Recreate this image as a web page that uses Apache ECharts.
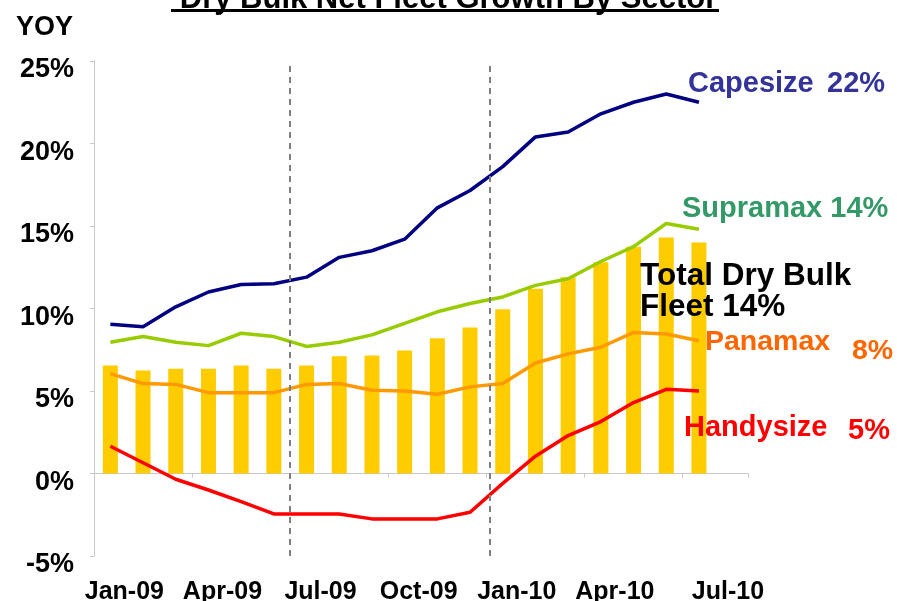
<!DOCTYPE html>
<html>
<head>
<meta charset="utf-8">
<script src="https://cdn.jsdelivr.net/npm/echarts@6/dist/echarts.min.js"></script>
<style>
html,body{margin:0;padding:0;background:#fff;}
#chart{width:897px;height:601px;}
</style>
</head>
<body>
<div id="chart"></div>
<script>
const months = ['Jan-09','Feb-09','Mar-09','Apr-09','May-09','Jun-09','Jul-09','Aug-09','Sep-09','Oct-09','Nov-09','Dec-09','Jan-10','Feb-10','Mar-10','Apr-10','May-10','Jun-10','Jul-10','Aug-10'];
const totalFleet = [6.55, 6.25, 6.35, 6.35, 6.55, 6.35, 6.55, 7.1, 7.15, 7.45, 8.2, 8.85, 9.95, 11.2, 11.9, 12.8, 13.75, 14.3, 14.0];
const capesize = [9.05, 8.9, 10.1, 11.0, 11.45, 11.5, 11.9, 13.1, 13.5, 14.2, 16.1, 17.15, 18.6, 20.4, 20.7, 21.8, 22.5, 23.0, 22.5];
const supramax = [7.95, 8.3, 7.95, 7.75, 8.5, 8.3, 7.7, 7.95, 8.4, 9.1, 9.8, 10.3, 10.7, 11.4, 11.8, 12.85, 13.75, 15.15, 14.8];
const panamax = [6.05, 5.45, 5.4, 4.9, 4.9, 4.9, 5.4, 5.45, 5.05, 5.0, 4.8, 5.25, 5.45, 6.7, 7.25, 7.65, 8.55, 8.45, 8.05];
const handysize = [1.65, 0.65, -0.35, -1.0, -1.7, -2.45, -2.45, -2.45, -2.75, -2.75, -2.75, -2.35, -0.6, 1.05, 2.3, 3.15, 4.3, 5.1, 5.0];
const dividers = [6, 12.1];

const FONT = '"Liberation Sans", Arial, sans-serif';
const chart = echarts.init(document.getElementById('chart'));
function txt(x, y, s, size, color, extra) {
  const style = Object.assign({text: s, fontFamily: FONT, fontWeight: 'bold', fontSize: size, fill: color}, extra || {});
  return {type: 'text', left: x, top: y, z: 100, zlevel: 1, style: style};
}
chart.setOption({
  animation: false,
  backgroundColor: '#fff',
  grid: {left: 94, right: 149, top: 61, bottom: 45, containLabel: false, outerBoundsMode: 'none'},
  xAxis: [{
    type: 'category',
    data: months,
    boundaryGap: true,
    axisLine: {onZero: true, lineStyle: {color: '#c8c8c8', width: 1}},
    axisTick: {show: true, interval: 2, length: 4, lineStyle: {color: '#c8c8c8'}},
    axisLabel: {
      interval: 2,
      margin: 24,
      color: '#000',
      fontFamily: FONT,
      fontWeight: 'bold',
      fontSize: 25,
      formatter: function (v) { return v === 'Jul-10' ? '{j|' + v + '}' : '{n|' + v + '}'; },
      rich: {
        n: {fontFamily: FONT, fontWeight: 'bold', fontSize: 25, color: '#000', padding: [0, 0, 0, 28]},
        j: {fontFamily: FONT, fontWeight: 'bold', fontSize: 25, color: '#000', padding: [0, 0, 0, 58]}
      }
    },
    splitLine: {show: false}
  }, {
    type: 'value', min: 0, max: 20, show: false
  }],
  yAxis: {
    type: 'value', min: -5, max: 25, interval: 5,
    axisLine: {show: true, lineStyle: {color: '#c8c8c8', width: 1}},
    axisTick: {show: true, length: 4, lineStyle: {color: '#c8c8c8'}},
    splitLine: {show: false},
    axisLabel: {
      formatter: '{value}%', color: '#000', fontFamily: FONT, fontWeight: 'bold', fontSize: 27,
      margin: 20, verticalAlign: 'top', lineHeight: 18
    }
  },
  series: [
    {name: 'Total Dry Bulk Fleet', type: 'bar', data: totalFleet, barWidth: 15, itemStyle: {color: '#FFCC00'}, z: 2},
    {name: 'Capesize', type: 'line', data: capesize, symbol: 'none', lineStyle: {color: '#000080', width: 3.5}, z: 3},
    {name: 'Supramax', type: 'line', data: supramax, symbol: 'none', lineStyle: {color: '#99CC00', width: 3.5}, z: 3},
    {name: 'Panamax', type: 'line', data: panamax, symbol: 'none', lineStyle: {color: '#FF9900', width: 3.5}, z: 3},
    {name: 'Handysize', type: 'line', data: handysize, symbol: 'none', lineStyle: {color: '#FF0000', width: 3.5}, z: 3},
    {
      name: 'dividers', type: 'line', xAxisIndex: 1, data: [], symbol: 'none', z: 4,
      markLine: {
        silent: true, symbol: ['none', 'none'], label: {show: false},
        lineStyle: {color: '#808080', type: [6, 5], width: 2},
        data: dividers.map(function (d) { return {xAxis: d}; })
      }
    }
  ],
  graphic: [
    {type: 'text', left: 'center', top: -16, z: 100, style: {text: 'Dry Bulk Net Fleet Growth By Sector', fontFamily: FONT, fontWeight: 'bold', fontSize: 31, fill: '#000'}},
    {type: 'rect', z: 100, shape: {x: 171, y: 9, width: 548, height: 3}, style: {fill: '#000'}},
    txt(16, 14, 'YOY', 27, '#000'),
    txt(688, 69, 'Capesize', 29, '#333399'),
    txt(827, 69, '22%', 29, '#333399'),
    txt(682, 194, 'Supramax 14%', 29, '#339966'),
    txt(640, 260, 'Total Dry Bulk\nFleet 14%', 31.5, '#000', {lineHeight: 31}),
    txt(705, 328, 'Panamax', 28.5, '#FF6600'),
    txt(852, 337, '8%', 28.5, '#FF6600'),
    txt(684, 413, 'Handysize', 29, '#FF0000'),
    txt(848, 416, '5%', 29, '#FF0000')
  ]
});
</script>
</body>
</html>
